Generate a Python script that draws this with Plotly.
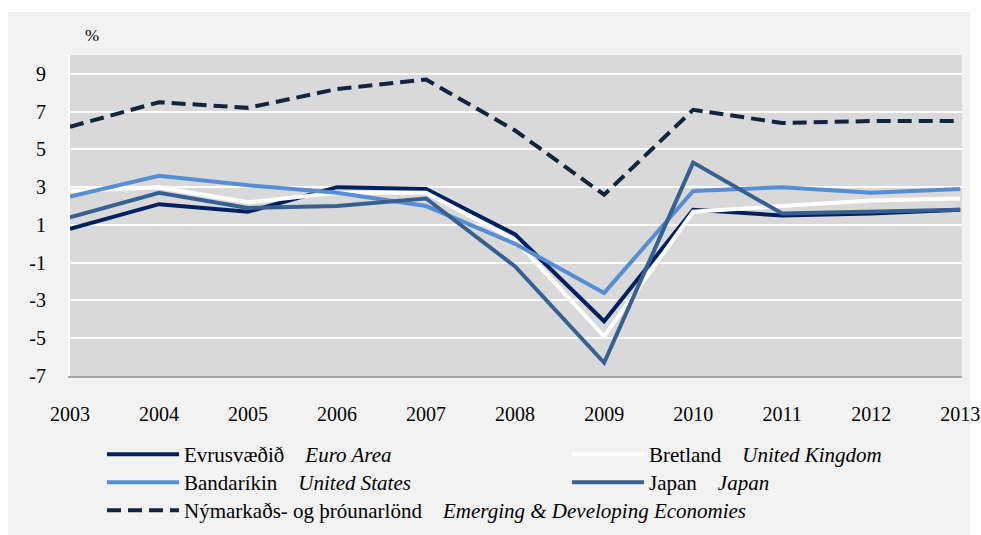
import plotly.graph_objects as go

years = [2003, 2004, 2005, 2006, 2007, 2008, 2009, 2010, 2011, 2012, 2013]
euro_area = [0.8, 2.1, 1.7, 3.0, 2.9, 0.5, -4.1, 1.8, 1.5, 1.6, 1.8]
united_kingdom = [2.8, 3.0, 2.2, 2.7, 2.7, 0.2, -4.9, 1.7, 2.0, 2.3, 2.4]
united_states = [2.5, 3.6, 3.1, 2.7, 2.0, 0.0, -2.6, 2.8, 3.0, 2.7, 2.9]
japan = [1.4, 2.7, 1.9, 2.0, 2.4, -1.2, -6.3, 4.3, 1.6, 1.7, 1.8]
emerging = [6.2, 7.5, 7.2, 8.2, 8.7, 6.0, 2.6, 7.1, 6.4, 6.5, 6.5]

ytick_vals = [-7, -5, -3, -1, 1, 3, 5, 7, 9]
ytick_text = ["-7", "-5", "-3", "-1", "1", "3", "5", "7", "9"]
xtick_text = [str(y) for y in years]

NB = "\u00a0"
# name, values, colour, dash, legend id, legend position (left px, top px)
series = [
    ("Evrusvæðið" + NB * 4 + "<i>Euro Area</i>", euro_area, "#002060", None, "legend", (102, 434)),
    ("Bretland" + NB * 4 + "<i>United Kingdom</i>", united_kingdom, "#ffffff", None, "legend2", (567, 434)),
    ("Bandaríkin" + NB * 4 + "<i>United States</i>", united_states, "#558ed5", None, "legend3", (102, 462)),
    ("Japan" + NB * 4 + "<i>Japan</i>", japan, "#376092", None, "legend4", (567, 462)),
    ("Nýmarkaðs- og þróunarlönd" + NB * 4 + "<i>Emerging &amp; Developing Economies</i>", emerging, "#10253f", "14px,7px", "legend5", (102, 490)),
]

W, H = 981, 535
PL, PR, PT, PB = 70, 19, 55, 159
PW, PH = W - PL - PR, H - PT - PB
font = dict(family="Liberation Serif, Times New Roman, serif", color="#000000")

fig = go.Figure()
legends = {}
for name, vals, color, dash, leg, (lx, ly) in series:
    line = dict(color=color, width=4)
    if dash:
        line["dash"] = dash
    fig.add_trace(go.Scatter(x=years, y=vals, mode="lines", name=name, line=line,
                             legend=leg, showlegend=True))
    legends[leg] = dict(orientation="v", xref="container", yref="container",
                        x=lx / W, y=1 - ly / H, xanchor="left", yanchor="top",
                        bgcolor="rgba(0,0,0,0)", itemwidth=72, tracegroupgap=0,
                        font=dict(**font, size=21))


def px_rect(x0, y0, x1, y1):
    # container pixels -> paper fractions
    return dict(type="rect", xref="paper", yref="paper",
                x0=(x0 - PL) / PW, x1=(x1 - PL) / PW,
                y0=(H - PB - y1) / PH, y1=(H - PB - y0) / PH,
                fillcolor="#ffffff", line=dict(width=0), layer="below")


fig.update_layout(
    width=W, height=H,
    showlegend=True,
    paper_bgcolor="#f2f2f2",
    plot_bgcolor="#d9d9d9",
    margin=dict(l=PL, r=PR, t=PT, b=PB, autoexpand=False),
    font=dict(**font, size=20),
    shapes=[px_rect(0, 0, W, 12), px_rect(0, 0, 8, H), px_rect(970, 0, W, H)],
    xaxis=dict(range=[2003, 2013.02], tickvals=years, ticktext=xtick_text,
               showgrid=False, zeroline=False, showline=True, linecolor="#a6a6a6", linewidth=1.5,
               ticks="outside", ticklen=19, tickcolor="rgba(0,0,0,0)",
               tickfont=dict(**font, size=20)),
    yaxis=dict(range=[-7, 10], tickvals=ytick_vals, ticktext=ytick_text,
               showgrid=True, gridcolor="#ffffff", gridwidth=2, zeroline=False,
               showline=True, linecolor="#ffffff", linewidth=2,
               ticks="outside", ticklen=18, tickcolor="rgba(0,0,0,0)",
               tickfont=dict(**font, size=20)),
    annotations=[dict(text="%", xref="paper", yref="paper", x=22 / PW, y=1 + 20 / PH,
                      showarrow=False, xanchor="center", yanchor="middle",
                      font=dict(**font, size=17))],
    **legends,
)

fig.write_html("out.html", config={"displayModeBar": False},
               post_script="document.body.style.margin='0';")
